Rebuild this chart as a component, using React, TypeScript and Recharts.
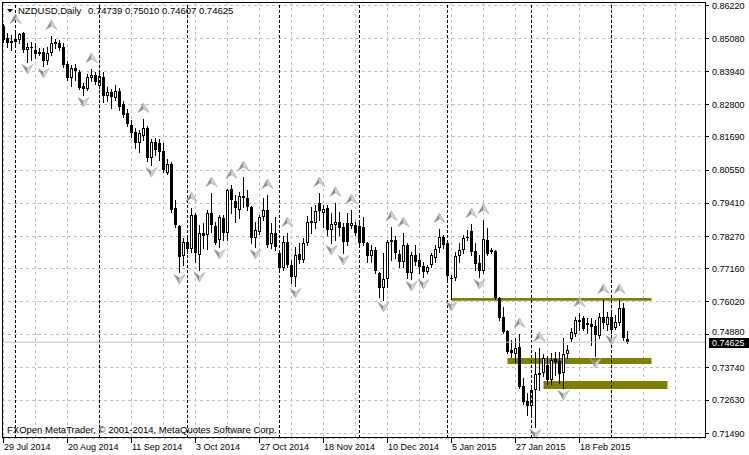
import React from 'react';
import {
  ComposedChart, Bar, Scatter, XAxis, YAxis, CartesianGrid, ReferenceLine, ReferenceArea
} from 'recharts';

// NZDUSD daily bars, 29 Jul 2014 .. 6 Mar 2015 (index 0..156)
const OPEN = [
  0.8551, 0.8509, 0.8492, 0.8496, 0.8503, 0.8527, 0.8468, 0.8478, 0.8468, 0.8461,
  0.8461, 0.8430, 0.8458, 0.8496, 0.8492, 0.8478, 0.8420, 0.8372, 0.8406, 0.8392,
  0.8344, 0.8334, 0.8372, 0.8382, 0.8344, 0.8375, 0.8310, 0.8324, 0.8303, 0.8327,
  0.8282, 0.8251, 0.8210, 0.8186, 0.8148, 0.8172, 0.8200, 0.8096, 0.8152, 0.8148,
  0.8121, 0.8045, 0.8076, 0.7924, 0.7862, 0.7759, 0.7807, 0.7783, 0.7900, 0.7763,
  0.7838, 0.7831, 0.7907, 0.7862, 0.7814, 0.7890, 0.7838, 0.7990, 0.7948, 0.7917,
  0.7966, 0.7959, 0.7928, 0.7821, 0.7842, 0.7893, 0.7917, 0.7800, 0.7838, 0.7770,
  0.7718, 0.7807, 0.7728, 0.7687, 0.7766, 0.7745, 0.7804, 0.7880, 0.7873, 0.7942,
  0.7907, 0.7924, 0.7849, 0.7866, 0.7876, 0.7859, 0.7873, 0.7862, 0.7866, 0.7862,
  0.7859, 0.7804, 0.7759, 0.7780, 0.7701, 0.7649, 0.7680, 0.7814, 0.7814, 0.7766,
  0.7739, 0.7797, 0.7701, 0.7763, 0.7745, 0.7725, 0.7704, 0.7728, 0.7752, 0.7787,
  0.7825, 0.7804, 0.7683, 0.7683, 0.7759, 0.7780, 0.7821, 0.7845, 0.7776, 0.7735,
  0.7708, 0.7814, 0.7780, 0.7776, 0.7615, 0.7549, 0.7501, 0.7436, 0.7422, 0.7446,
  0.7312, 0.7260, 0.7243, 0.7298, 0.7357, 0.7357, 0.7384, 0.7332, 0.7405, 0.7398,
  0.7357, 0.7422, 0.7474, 0.7491, 0.7539, 0.7546, 0.7529, 0.7525, 0.7518, 0.7484,
  0.7549, 0.7522, 0.7549, 0.7511, 0.7529, 0.7580, 0.74739,
];
const HIGH = [
  0.8558, 0.8527, 0.8520, 0.8537, 0.8527, 0.8530, 0.8492, 0.8496, 0.8492, 0.8475,
  0.8475, 0.8478, 0.8516, 0.8506, 0.8503, 0.8492, 0.8430, 0.8416, 0.8420, 0.8399,
  0.8355, 0.8386, 0.8403, 0.8392, 0.8392, 0.8392, 0.8341, 0.8334, 0.8348, 0.8337,
  0.8293, 0.8265, 0.8227, 0.8200, 0.8193, 0.8231, 0.8207, 0.8162, 0.8165, 0.8162,
  0.8148, 0.8093, 0.8083, 0.7952, 0.7866, 0.7821, 0.7828, 0.7924, 0.7907, 0.7866,
  0.7873, 0.7917, 0.7976, 0.7876, 0.7900, 0.7900, 0.7990, 0.8004, 0.7969, 0.7979,
  0.8031, 0.7986, 0.7931, 0.7876, 0.7900, 0.7959, 0.7969, 0.7873, 0.7893, 0.7773,
  0.7828, 0.7838, 0.7745, 0.7790, 0.7804, 0.7821, 0.7897, 0.7928, 0.7935, 0.7976,
  0.7935, 0.7935, 0.7907, 0.7942, 0.7911, 0.7873, 0.7907, 0.7917, 0.7876, 0.7876,
  0.7893, 0.7807, 0.7797, 0.7790, 0.7704, 0.7770, 0.7814, 0.7859, 0.7828, 0.7780,
  0.7838, 0.7804, 0.7773, 0.7797, 0.7770, 0.7739, 0.7728, 0.7770, 0.7797, 0.7852,
  0.7831, 0.7807, 0.7694, 0.7773, 0.7804, 0.7831, 0.7849, 0.7869, 0.7804, 0.7763,
  0.7883, 0.7856, 0.7787, 0.7780, 0.7618, 0.7584, 0.7504, 0.7470, 0.7477, 0.7491,
  0.7339, 0.7288, 0.7305, 0.7429, 0.7443, 0.7422, 0.7415, 0.7425, 0.7429, 0.7429,
  0.7477, 0.7453, 0.7511, 0.7549, 0.7563, 0.7553, 0.7546, 0.7546, 0.7539, 0.7563,
  0.7608, 0.7566, 0.7573, 0.7556, 0.7608, 0.7597, 0.75010,
];
const LOW = [
  0.8496, 0.8478, 0.8468, 0.8485, 0.8492, 0.8461, 0.8427, 0.8434, 0.8441, 0.8451,
  0.8413, 0.8420, 0.8451, 0.8475, 0.8468, 0.8410, 0.8365, 0.8344, 0.8365, 0.8334,
  0.8313, 0.8330, 0.8361, 0.8351, 0.8337, 0.8289, 0.8293, 0.8269, 0.8296, 0.8262,
  0.8238, 0.8207, 0.8169, 0.8131, 0.8117, 0.8158, 0.8086, 0.8072, 0.8107, 0.8090,
  0.8048, 0.8041, 0.7911, 0.7859, 0.7704, 0.7728, 0.7770, 0.7773, 0.7739, 0.7711,
  0.7787, 0.7783, 0.7842, 0.7800, 0.7790, 0.7814, 0.7814, 0.7907, 0.7876, 0.7890,
  0.7928, 0.7917, 0.7804, 0.7790, 0.7835, 0.7883, 0.7790, 0.7787, 0.7780, 0.7704,
  0.7711, 0.7721, 0.7666, 0.7656, 0.7735, 0.7739, 0.7797, 0.7838, 0.7856, 0.7883,
  0.7859, 0.7831, 0.7804, 0.7814, 0.7831, 0.7770, 0.7797, 0.7856, 0.7831, 0.7797,
  0.7797, 0.7739, 0.7739, 0.7701, 0.7618, 0.7608, 0.7652, 0.7745, 0.7752, 0.7721,
  0.7721, 0.7683, 0.7680, 0.7728, 0.7701, 0.7687, 0.7701, 0.7721, 0.7739, 0.7773,
  0.7787, 0.7670, 0.7611, 0.7677, 0.7739, 0.7770, 0.7814, 0.7763, 0.7711, 0.7687,
  0.7701, 0.7763, 0.7770, 0.7611, 0.7539, 0.7494, 0.7425, 0.7412, 0.7394, 0.7305,
  0.7250, 0.7212, 0.7205, 0.7171, 0.7298, 0.7346, 0.7319, 0.7319, 0.7350, 0.7322,
  0.7305, 0.7408, 0.7467, 0.7484, 0.7504, 0.7504, 0.7494, 0.7453, 0.7415, 0.7477,
  0.7511, 0.7504, 0.7494, 0.7508, 0.7522, 0.7470, 0.74607,
];
const CLOSE = [
  0.8503, 0.8492, 0.8499, 0.8506, 0.8523, 0.8468, 0.8478, 0.8475, 0.8454, 0.8454,
  0.8430, 0.8458, 0.8492, 0.8489, 0.8475, 0.8416, 0.8372, 0.8406, 0.8396, 0.8337,
  0.8334, 0.8375, 0.8382, 0.8358, 0.8379, 0.8310, 0.8324, 0.8306, 0.8327, 0.8272,
  0.8244, 0.8213, 0.8182, 0.8148, 0.8182, 0.8200, 0.8096, 0.8152, 0.8124, 0.8117,
  0.8055, 0.8076, 0.7917, 0.7866, 0.7756, 0.7807, 0.7783, 0.7900, 0.7770, 0.7838,
  0.7828, 0.7907, 0.7866, 0.7804, 0.7893, 0.7838, 0.7986, 0.7952, 0.7924, 0.7966,
  0.7959, 0.7928, 0.7821, 0.7849, 0.7893, 0.7917, 0.7797, 0.7838, 0.7790, 0.7718,
  0.7807, 0.7728, 0.7687, 0.7763, 0.7745, 0.7804, 0.7876, 0.7873, 0.7914, 0.7914,
  0.7921, 0.7849, 0.7869, 0.7876, 0.7856, 0.7807, 0.7807, 0.7873, 0.7838, 0.7804,
  0.7804, 0.7759, 0.7780, 0.7708, 0.7649, 0.7680, 0.7807, 0.7807, 0.7770, 0.7739,
  0.7797, 0.7701, 0.7763, 0.7739, 0.7721, 0.7704, 0.7721, 0.7763, 0.7783, 0.7825,
  0.7797, 0.7690, 0.7680, 0.7759, 0.7780, 0.7821, 0.7825, 0.7773, 0.7732, 0.7708,
  0.7818, 0.7766, 0.7773, 0.7615, 0.7546, 0.7498, 0.7429, 0.7425, 0.7443, 0.7308,
  0.7257, 0.7243, 0.7298, 0.7353, 0.7350, 0.7408, 0.7332, 0.7401, 0.7394, 0.7353,
  0.7422, 0.7436, 0.7498, 0.7539, 0.7532, 0.7508, 0.7522, 0.7515, 0.7487, 0.7549,
  0.7529, 0.7549, 0.7504, 0.7532, 0.7580, 0.7477, 0.74625,
];

// date label every 16 bars, starting at bar 0
const DATE_LABELS = [
  '29 Jul 2014', '20 Aug 2014', '11 Sep 2014', '3 Oct 2014', '27 Oct 2014',
  '18 Nov 2014', '10 Dec 2014', '5 Jan 2015', '27 Jan 2015', '18 Feb 2015',
];
const LABEL_STEP = 16;
const GRID_STEP = 8;
const PRICE_TICKS = [
  0.8622, 0.8508, 0.8394, 0.828, 0.8169, 0.8055, 0.7941,
  0.7827, 0.7716, 0.7602, 0.7488, 0.7374, 0.7263, 0.7149,
];
// first bar of each month (period separators)
const MONTH_STARTS = [3, 24, 46, 69, 89, 111, 132, 152];
// Bill Williams fractals (bar indexes)
const UP_FRACTALS = [3, 12, 22, 35, 47, 52, 57, 60, 66, 71, 79, 83, 87, 97, 100, 109, 117, 120, 129, 134, 144, 150, 154];
const DOWN_FRACTALS = [6, 10, 20, 37, 44, 49, 54, 63, 73, 82, 85, 95, 102, 105, 112, 119, 133, 140, 148, 152];
// olive rectangles drawn on the chart
const ZONES = [
  { from: 112, to: 162, top: 0.76146, bottom: 0.76053 },
  { from: 126, to: 162, top: 0.74081, bottom: 0.73875 },
  { from: 135, to: 166, top: 0.7329, bottom: 0.73015 },
];

const X_DOMAIN = [-0.375, 175.375];
const Y_DOMAIN = [0.71328, 0.86333];
const FONT = "'Liberation Sans', Arial, sans-serif";
const OLIVE = '#808000';

const last = OPEN.length - 1;
const candles = OPEN.map((o, i) => ({ i, o, h: HIGH[i], l: LOW[i], c: CLOSE[i], range: [LOW[i], HIGH[i]] }));
const upPts = UP_FRACTALS.map((i) => ({ i, v: HIGH[i] }));
const downPts = DOWN_FRACTALS.map((i) => ({ i, v: LOW[i] }));
const xTicks = Array.from({ length: Math.floor(X_DOMAIN[1] / GRID_STEP) + 1 }, (_, k) => k * GRID_STEP);

const Candle = (props: any) => {
  const { x, y, width, height, payload } = props;
  if (x == null || y == null || !payload) return null;
  const top = height < 0 ? y + height : y;
  const hgt = Math.abs(height);
  const { o, h, l, c } = payload;
  const col = Math.floor(x + width / 2);
  const toY = (v: number) => top + ((h - v) / (h - l || 1e-9)) * hgt;
  const yHi = Math.round(toY(h));
  const yLo = Math.round(toY(l));
  const yTop = Math.round(toY(Math.max(o, c)));
  const yBot = Math.round(toY(Math.min(o, c)));
  const bodyH = yBot - yTop;
  let body;
  if (bodyH <= 1) body = <rect x={col - 1} y={yTop} width={3} height={1} fill="#000" />;
  else if (c >= o) body = <rect x={col - 0.5} y={yTop + 0.5} width={2} height={bodyH - 1} fill="#fff" stroke="#000" />;
  else body = <rect x={col - 1} y={yTop} width={3} height={bodyH} fill="#000" />;
  return (
    <g shapeRendering="crispEdges">
      <line x1={col + 0.5} x2={col + 0.5} y1={yHi} y2={yLo + 1} stroke="#000" />
      {body}
    </g>
  );
};

const Arrow = ({ cx, cy, up }: any) => {
  if (cx == null || cy == null) return null;
  const x = Math.floor(cx) + 0.5;
  const y = up ? cy - 11 : cy + 7;
  const s = up ? 1 : -1;
  const tip = `${x},${y - 5 * s}`;
  const notch = `${x},${y + 1 * s}`;
  return (
    <g>
      <polygon points={`${tip} ${notch} ${x - 5.5},${y + 4.5 * s}`} fill="#8c8c8c" />
      <polygon points={`${tip} ${x + 5.5},${y + 4.5 * s} ${notch}`} fill="#d4d4d4" />
      <polygon points={`${tip} ${x + 5.5},${y + 4.5 * s} ${notch} ${x - 5.5},${y + 4.5 * s}`} fill="none" stroke="#a0a0a0" strokeWidth={0.6} />
    </g>
  );
};

const DateTick = (props: any) => {
  const { x, y, payload } = props;
  const k = payload.value / LABEL_STEP;
  const label = Number.isInteger(k) ? DATE_LABELS[k] : undefined;
  if (!label) return <g />;
  const col = Math.floor(x) + 0.5;
  return (
    <g>
      <line x1={col} x2={col} y1={y} y2={y + 5} stroke="#000" shapeRendering="crispEdges" />
      <text x={col + 0.5} y={y + 12} fontSize={9} fontFamily={FONT} fill="#000">{label}</text>
    </g>
  );
};

const PriceTick = (props: any) => {
  const { x, y, payload } = props;
  const row = Math.floor(y) + 0.5;
  // label right above the current-price tag gets nudged up, as the terminal does
  const lift = Math.abs(payload.value - CLOSE[last]) < 0.004 ? 3 : 0;
  return (
    <g>
      <line x1={x} x2={x + 4} y1={row} y2={row} stroke="#000" shapeRendering="crispEdges" />
      <text x={x + 7} y={y + 3.3 - lift} fontSize={9} fontFamily={FONT} fill="#000">{payload.value.toFixed(5)}</text>
    </g>
  );
};

const PriceTag = (props: any) => {
  const vb = props.viewBox;
  if (!vb) return null;
  const right = vb.x + vb.width;
  const yy = Math.floor(vb.y);
  return (
    <g>
      <rect x={right + 4} y={yy - 4} width={40} height={10} fill="#000" />
      <text x={right + 7} y={yy + 4} fontSize={9} fontFamily={FONT} fill="#fff">{CLOSE[last].toFixed(5)}</text>
    </g>
  );
};

const gridLine = (p: any) => {
  const { x1, x2, y1, y2 } = p;
  const horiz = y1 === y2;
  const a = horiz ? Math.floor(y1) + 0.5 : Math.floor(x1) + 0.5;
  return horiz
    ? <line key={`h${y1}`} x1={x1} x2={x2} y1={a} y2={a} stroke="#c0c0c0" strokeDasharray="3 3" shapeRendering="crispEdges" />
    : <line key={`v${x1}`} x1={a} x2={a} y1={y1} y2={y2} stroke="#c0c0c0" strokeDasharray="3 3" shapeRendering="crispEdges" />;
};

const App: React.FC = () => {
  const title = `${OPEN[last].toFixed(5)} ${HIGH[last].toFixed(5)} ${LOW[last].toFixed(5)} ${CLOSE[last].toFixed(5)}`;
  return (
    <div style={{ position: 'absolute', left: 0, top: 0, width: 749, height: 455, background: '#fff' }}>
      <ComposedChart width={749} height={455} data={candles} margin={{ top: 2, right: 0, bottom: 0, left: 2 }}>
        <CartesianGrid horizontal={gridLine} vertical={gridLine} />
        <XAxis dataKey="i" type="number" domain={X_DOMAIN} allowDataOverflow ticks={xTicks} interval={0}
          height={17} axisLine={false} tickLine={false} tickSize={0} tickMargin={0} tick={(p: any) => <DateTick {...p} />} />
        <YAxis orientation="right" type="number" domain={Y_DOMAIN} allowDataOverflow ticks={PRICE_TICKS} interval={0}
          width={44} axisLine={false} tickLine={false} tickSize={0} tickMargin={0} tick={(p: any) => <PriceTick {...p} />} />
        {ZONES.map((z, k) => (
          <ReferenceArea key={`z${k}`} x1={z.from} x2={z.to} y1={z.bottom} y2={z.top} fill={OLIVE} fillOpacity={1} stroke="none" ifOverflow="visible" />
        ))}
        {MONTH_STARTS.map((m) => (
          <ReferenceLine key={`m${m}`} x={m} stroke="#000" strokeDasharray="3 2" />
        ))}
        <ReferenceLine y={CLOSE[last]} stroke="#c0c0c0" label={(p: any) => <PriceTag {...p} />} />
        <Bar dataKey="range" barSize={3} isAnimationActive={false} shape={(p: any) => <Candle {...p} />} />
        <Scatter data={upPts} dataKey="v" isAnimationActive={false} shape={(p: any) => <Arrow {...p} up />} />
        <Scatter data={downPts} dataKey="v" isAnimationActive={false} shape={(p: any) => <Arrow {...p} up={false} />} />
      </ComposedChart>
      <svg width={749} height={455} style={{ position: 'absolute', left: 0, top: 0, pointerEvents: 'none' }}>
        <g shapeRendering="crispEdges" stroke="#000">
          <line x1={2.5} y1={2} x2={2.5} y2={438} />
          <line x1={2} y1={2.5} x2={706} y2={2.5} />
          <line x1={705.5} y1={2} x2={705.5} y2={438} />
          <line x1={2} y1={437.5} x2={706} y2={437.5} />
        </g>
        <polygon points="7,9 13,9 10,12.5" fill="#000" />
        <text x={18} y={14} fontSize={9.5} fontFamily={FONT} fill="#000">NZDUSD,Daily</text>
        <text x={88} y={14} fontSize={9.5} fontFamily={FONT} fill="#000">{title}</text>
        <text x={7} y={433} fontSize={9.5} fontFamily={FONT} fill="#000">FXOpen MetaTrader, © 2001-2014, MetaQuotes Software Corp.</text>
      </svg>
    </div>
  );
};

export default App;
